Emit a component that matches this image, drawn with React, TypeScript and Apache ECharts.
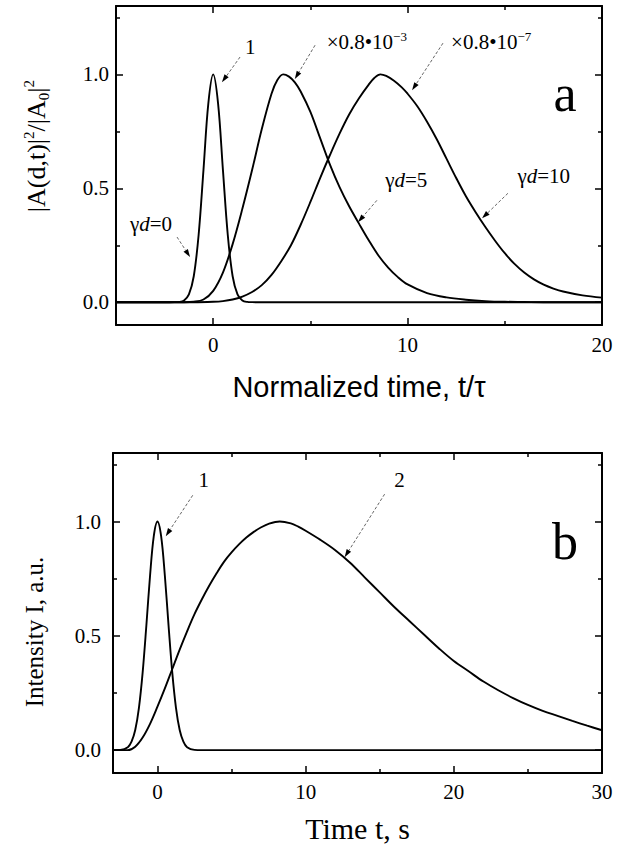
import React, { useEffect, useRef } from "react";
import * as echarts from "echarts";

// ---------- Panel a data (normalized time t/tau, |A|^2/|A0|^2) ----------
const aGd0T = [-5, -2.25, -2, -1.75, -1.5, -1.25, -1, -0.75, -0.5, -0.25, 0, 0.25, 0.5, 0.75, 1, 1.25, 1.5, 1.75, 2, 2.25, 20];
const aGd0V = [0, 0, 0.0002, 0.0013, 0.0076, 0.034, 0.114, 0.295, 0.581, 0.873, 1, 0.873, 0.581, 0.295, 0.114, 0.034, 0.0076, 0.0013, 0.0002, 0, 0];

const aGd5T = [-5, -1.5, -1, -0.5, 0, 0.5, 1, 1.5, 2, 2.5, 3, 3.3, 3.6, 3.9, 4.2, 4.5, 5, 5.5, 6, 6.5, 7, 7.5, 8, 8.5, 9, 9.5, 10, 11, 12, 13, 14, 15, 16, 17, 20];
const aGd5V = [0, 0, 0.002, 0.012, 0.05, 0.13, 0.255, 0.41, 0.58, 0.76, 0.915, 0.975, 1.0, 0.99, 0.965, 0.925, 0.835, 0.72, 0.605, 0.505, 0.42, 0.345, 0.272, 0.205, 0.152, 0.11, 0.078, 0.04, 0.021, 0.011, 0.005, 0.002, 0.001, 0, 0];

const aGd10T = [-5, -1, 0, 0.5, 1, 1.5, 2, 2.5, 3, 3.5, 4, 4.5, 5, 5.5, 6, 6.5, 7, 7.5, 8, 8.3, 8.6, 8.9, 9.3, 9.7, 10, 10.5, 11, 11.5, 12, 12.5, 13, 13.5, 14, 14.5, 15, 15.5, 16, 16.5, 17, 17.5, 18, 19, 20];
const aGd10V = [0, 0, 0.002, 0.005, 0.012, 0.025, 0.045, 0.075, 0.12, 0.18, 0.25, 0.34, 0.44, 0.545, 0.645, 0.74, 0.825, 0.895, 0.955, 0.985, 1.0, 0.993, 0.972, 0.943, 0.915, 0.86, 0.792, 0.715, 0.63, 0.545, 0.465, 0.395, 0.33, 0.27, 0.215, 0.168, 0.13, 0.1, 0.077, 0.06, 0.047, 0.03, 0.02];

// ---------- Panel b data (time t, s; intensity I, a.u.) ----------
const b1T = [-3, -2.5, -2, -1.75, -1.5, -1.25, -1, -0.75, -0.5, -0.25, 0, 0.25, 0.5, 0.75, 1, 1.25, 1.5, 1.75, 2, 2.5, 3, 30];
const b1V = [0, 0.001, 0.013, 0.037, 0.088, 0.185, 0.339, 0.544, 0.763, 0.935, 1, 0.935, 0.763, 0.544, 0.339, 0.185, 0.088, 0.037, 0.013, 0.001, 0, 0];

const b2T = [-3, -2, -1.5, -1, -0.5, 0, 0.5, 1, 1.5, 2, 2.5, 3, 3.5, 4, 4.5, 5, 5.5, 6, 6.5, 7, 7.5, 8.25, 9, 9.5, 10, 11, 12, 13, 14, 15, 16, 17, 18, 19, 20, 21, 22, 23, 24, 25, 26, 27, 28, 29, 30];
const b2V = [0, 0, 0.015, 0.055, 0.115, 0.19, 0.27, 0.355, 0.44, 0.52, 0.595, 0.66, 0.72, 0.775, 0.825, 0.865, 0.9, 0.93, 0.955, 0.975, 0.99, 1.0, 0.992, 0.978, 0.96, 0.92, 0.875, 0.82, 0.755, 0.69, 0.625, 0.565, 0.505, 0.445, 0.39, 0.345, 0.3, 0.262, 0.228, 0.198, 0.172, 0.15, 0.128, 0.107, 0.087];

// ---------- Tick values ----------
const aXLabels = [0, 10, 20];
const aXMajor = [0, 10, 20];
const aXMinor = [5, 15];
const bXLabels = [0, 10, 20, 30];
const bXMajor = [0, 10, 20, 30];
const bXMinor = [5, 15, 25];
const yLabels = [0, 0.5, 1.0];
const yMajor = [0, 0.5, 1.0];
const yMinor = [0.25, 0.75, 1.25];

const SERIF = "Liberation Serif";
const SANS = "Liberation Sans";

const zip = (t: number[], v: number[]) => t.map((x, i) => [x, v[i]]);

function xAxes(grid: number, min: number, max: number, labels: number[], major: number[], minor: number[], name: any, nameGap: number, nameFont: any, labelSize: number, labelMargin: number) {
  const line = { show: true, onZero: false, lineStyle: { color: "#000", width: 2 } };
  const base = { type: "value", gridIndex: grid, min, max, splitLine: { show: false } };
  return [
    {
      ...base, position: "bottom", axisLine: line,
      axisTick: { show: true, inside: true, length: 7, customValues: major, lineStyle: { color: "#000", width: 1.5 } },
      axisLabel: { show: true, customValues: labels, color: "#000", fontFamily: SERIF, fontSize: labelSize, margin: labelMargin, formatter: (v: number) => String(Math.round(v)) },
      name, nameLocation: "middle", nameGap, nameTextStyle: nameFont,
    },
    { ...base, position: "bottom", axisLine: { show: false, onZero: false }, axisTick: { show: true, inside: true, length: 4, customValues: minor, lineStyle: { color: "#000", width: 1.5 } }, axisLabel: { show: false } },
    { ...base, position: "top", axisLine: line, axisTick: { show: true, inside: true, length: 7, customValues: major, lineStyle: { color: "#000", width: 1.5 } }, axisLabel: { show: false } },
    { ...base, position: "top", axisLine: { show: false, onZero: false }, axisTick: { show: true, inside: true, length: 4, customValues: minor, lineStyle: { color: "#000", width: 1.5 } }, axisLabel: { show: false } },
  ];
}

function yAxes(grid: number, labelSize: number, labelMargin: number) {
  const line = { show: true, onZero: false, lineStyle: { color: "#000", width: 2 } };
  const base = { type: "value", gridIndex: grid, min: -0.1, max: 1.3, splitLine: { show: false } };
  return [
    {
      ...base, position: "left", axisLine: line,
      axisTick: { show: true, inside: true, length: 7, customValues: yMajor, lineStyle: { color: "#000", width: 1.5 } },
      axisLabel: { show: true, customValues: yLabels, color: "#000", fontFamily: SERIF, fontSize: labelSize, margin: labelMargin, formatter: (v: number) => v.toFixed(1) },
    },
    { ...base, position: "left", axisLine: { show: false, onZero: false }, axisTick: { show: true, inside: true, length: 4, customValues: yMinor, lineStyle: { color: "#000", width: 1.5 } }, axisLabel: { show: false } },
    { ...base, position: "right", axisLine: line, axisTick: { show: true, inside: true, length: 7, customValues: yMajor, lineStyle: { color: "#000", width: 1.5 } }, axisLabel: { show: false } },
    { ...base, position: "right", axisLine: { show: false, onZero: false }, axisTick: { show: true, inside: true, length: 4, customValues: yMinor, lineStyle: { color: "#000", width: 1.5 } }, axisLabel: { show: false } },
  ];
}

// ---------- Annotations (data coordinates) ----------
const annA = [
  { text: "{n|1}", at: [1.9, 1.12], from: [1.38, 1.076], to: [0.45, 0.965] },
  { text: "{n|×0.8•10}{s|−3}", at: [7.9, 1.14], from: [5.24, 1.128], to: [4.2, 0.98] },
  { text: "{n|×0.8•10}{s|−7}", at: [14.3, 1.14], from: [11.82, 1.137], to: [10.23, 0.93] },
  { text: "{n|γ}{i|d}{n|=5}", at: [9.93, 0.535], from: [8.42, 0.447], to: [7.45, 0.351] },
  { text: "{n|γ}{i|d}{n|=10}", at: [17.0, 0.553], from: [15.16, 0.478], to: [13.83, 0.368] },
  { text: "{n|γ}{i|d}{n|=0}", at: [-3.2, 0.343], from: [-1.86, 0.286], to: [-1.19, 0.198] },
];
const annB = [
  { text: "{n|1}", at: [3.12, 1.18], from: [2.38, 1.115], to: [0.56, 0.936] },
  { text: "{n|2}", at: [16.34, 1.18], from: [15.33, 1.12], to: [12.63, 0.844] },
];
const panelLetters = [
  { text: "a", series: 0, at: [18.1, 0.8] },
  { text: "b", series: 3, at: [27.5, 0.8] },
];
// y-axis titles, anchored at (data x, data y) of their grid
const yTitles = [
  { text: "{n||A(d,t)|}{sup|2}{n|/|A}{sub|0}{n||}{sup|2}", series: 0, at: [-9.1, 0.685], size: 26 },
  { text: "{n|Intensity I, a.u.}", series: 3, at: [-8.27, 0.517], size: 25 },
];

const richStyle = {
  n: { fontFamily: SERIF, fontSize: 21, fill: "#000", lineHeight: 24 },
  i: { fontFamily: SERIF, fontSize: 21, fontStyle: "italic", fill: "#000", lineHeight: 24 },
  s: { fontFamily: SERIF, fontSize: 13, fill: "#000", verticalAlign: "top", lineHeight: 24, padding: [0, 0, 10, 0] },
};

export default function App() {
  const ref = useRef<HTMLDivElement>(null);
  useEffect(() => {
    if (!ref.current) return;
    const chart = echarts.init(ref.current, undefined, { renderer: "svg" });
    const lineSeries = (data: number[][], xi: number, yi: number) => ({
      type: "line", xAxisIndex: xi, yAxisIndex: yi, data, showSymbol: false, symbol: "none",
      smooth: 0.35, lineStyle: { color: "#000", width: 1.9 }, silent: true,
    });
    const option: any = {
      animation: false,
      backgroundColor: "#fff",
      grid: [
        { left: 116, top: 6, width: 486, height: 319 },
        { left: 113, top: 453, width: 489, height: 321 },
      ],
      xAxis: [
        ...xAxes(0, -5, 20, aXLabels, aXMajor, aXMinor, "Normalized time, t/τ", 47, { fontFamily: SANS, fontSize: 29, color: "#000" }, 21, 9),
        ...xAxes(1, -3, 30, bXLabels, bXMajor, bXMinor, "Time t, s", 40, { fontFamily: SERIF, fontSize: 30, color: "#000" }, 21, 8),
      ],
      yAxis: [
        ...yAxes(0, 21, 7),
        ...yAxes(1, 21, 12),
      ],
      series: [
        lineSeries(zip(aGd0T, aGd0V), 0, 0),
        lineSeries(zip(aGd5T, aGd5V), 0, 0),
        lineSeries(zip(aGd10T, aGd10V), 0, 0),
        lineSeries(zip(b1T, b1V), 4, 4),
        lineSeries(zip(b2T, b2V), 4, 4),
      ],
    };
    chart.setOption(option);

    const px = (seriesIndex: number, p: number[]) => chart.convertToPixel({ seriesIndex }, p) as number[];
    const graphics: any[] = [];
    const addArrow = (p1: number[], p2: number[]) => {
      const dx = p2[0] - p1[0], dy = p2[1] - p1[1];
      const len = Math.hypot(dx, dy) || 1;
      const ux = dx / len, uy = dy / len;
      const hl = 8, hw = 2.6;
      const bx = p2[0] - ux * hl, by = p2[1] - uy * hl;
      graphics.push({
        type: "line", silent: true,
        shape: { x1: p1[0], y1: p1[1], x2: bx, y2: by },
        style: { stroke: "#666", lineWidth: 1, lineDash: [3, 2] },
      });
      graphics.push({
        type: "polygon", silent: true,
        shape: { points: [[p2[0], p2[1]], [bx - uy * hw, by + ux * hw], [bx + uy * hw, by - ux * hw]] },
        style: { fill: "#000" },
      });
    };
    const addAnn = (ann: any[], si: number) => {
      ann.forEach((a) => {
        const c = px(si, a.at);
        graphics.push({
          type: "text", silent: true, x: c[0], y: c[1],
          style: { text: a.text, rich: richStyle, align: "center", verticalAlign: "middle" },
        });
        addArrow(px(si, a.from), px(si, a.to));
      });
    };
    addAnn(annA, 0);
    addAnn(annB, 3);
    panelLetters.forEach((l) => {
      const c = px(l.series, l.at);
      graphics.push({
        type: "text", silent: true, x: c[0], y: c[1],
        style: { text: l.text, fontFamily: SERIF, fontSize: 52, fill: "#000", align: "center", verticalAlign: "bottom" },
      });
    });
    yTitles.forEach((t) => {
      const c = px(t.series, t.at);
      graphics.push({
        type: "text", silent: true, x: c[0], y: c[1], rotation: Math.PI / 2,
        style: {
          text: t.text, align: "center", verticalAlign: "middle",
          rich: {
            n: { fontFamily: SERIF, fontSize: t.size, fill: "#000", lineHeight: 30 },
            sup: { fontFamily: SERIF, fontSize: 15, fill: "#000", verticalAlign: "top", lineHeight: 30, padding: [0, 0, 14, 0] },
            sub: { fontFamily: SERIF, fontSize: 15, fill: "#000", verticalAlign: "bottom", lineHeight: 30, padding: [10, 0, 0, 0] },
          },
        },
      });
    });
    chart.setOption({ graphic: graphics });

    return () => chart.dispose();
  }, []);
  return <div ref={ref} style={{ position: "fixed", left: 0, top: 0, width: 631, height: 844, background: "#fff" }} />;
}
